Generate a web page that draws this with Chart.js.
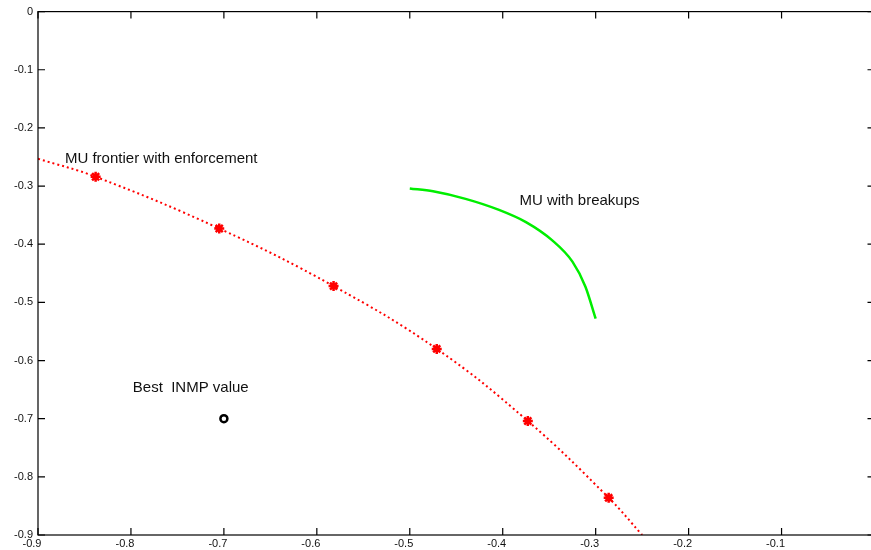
<!DOCTYPE html>
<html>
<head>
<meta charset="utf-8">
<script src="https://cdn.jsdelivr.net/npm/chart.js@4.4.0/dist/chart.umd.min.js"></script>
<style>
    html, body { margin: 0; padding: 0; background: #fff; overflow: hidden; }
    #chart { display: block; width: 882px; height: 550px; }
</style>
</head>
<body>
<canvas id="chart" width="882" height="550"></canvas>
<script>
// Axis ticks (the x = 0 label falls outside the visible picture)
const xTicks = [-0.9, -0.8, -0.7, -0.6, -0.5, -0.4, -0.3, -0.2, -0.1, 0];
const yTicks = [0, -0.1, -0.2, -0.3, -0.4, -0.5, -0.6, -0.7, -0.8, -0.9];
const xTickLabels = ['-0.9', '-0.8', '-0.7', '-0.6', '-0.5', '-0.4', '-0.3', '-0.2', '-0.1', ''];
const yTickLabels = ['0', '-0.1', '-0.2', '-0.3', '-0.4', '-0.5', '-0.6', '-0.7', '-0.8', '-0.9'];

// MU frontier with enforcement (dotted line + star markers)
const frontierLineX = [-0.9, -0.838, -0.705, -0.582, -0.471, -0.373, -0.286, -0.25];
const frontierLineY = [-0.253, -0.284, -0.373, -0.472, -0.580, -0.704, -0.836, -0.9];
const frontierMarkX = [-0.838, -0.705, -0.582, -0.471, -0.373, -0.286];
const frontierMarkY = [-0.284, -0.373, -0.472, -0.580, -0.704, -0.836];

// MU with breakups
const breakupX = [-0.500, -0.475, -0.440, -0.404, -0.375, -0.347, -0.325, -0.311, -0.300];
const breakupY = [-0.304, -0.309, -0.322, -0.341, -0.362, -0.393, -0.430, -0.473, -0.528];

// Best INMP value
const bestX = [-0.7];
const bestY = [-0.7];

// Text annotations (data coordinates)
const notes = [
    { text: 'MU frontier with enforcement', x: -0.871, y: -0.253 },
    { text: 'MU with breakups', x: -0.382, y: -0.326 },
    { text: 'Best  INMP value', x: -0.798, y: -0.647 }
];

function toPoints(xs, ys) {
    return xs.map((x, i) => ({ x: x, y: ys[i] }));
}

// Frame, inward ticks and notes
const framePlugin = {
    id: 'frame',
    afterDatasetsDraw(chart) {
        const { ctx, chartArea: a, scales } = chart;
        ctx.save();
        ctx.strokeStyle = '#000';
        ctx.lineWidth = 1.2;
        ctx.strokeRect(a.left, a.top, a.right - a.left, a.bottom - a.top);
        const len = 7;
        ctx.beginPath();
        xTicks.forEach(v => {
            const px = scales.x.getPixelForValue(v);
            ctx.moveTo(px, a.bottom); ctx.lineTo(px, a.bottom - len);
            ctx.moveTo(px, a.top); ctx.lineTo(px, a.top + len);
        });
        yTicks.forEach(v => {
            const py = scales.y.getPixelForValue(v);
            ctx.moveTo(a.left, py); ctx.lineTo(a.left + len, py);
            ctx.moveTo(a.right, py); ctx.lineTo(a.right - len, py);
        });
        ctx.stroke();

        ctx.fillStyle = '#111';
        ctx.font = '15px "Liberation Sans", Arial, sans-serif';
        ctx.textAlign = 'left';
        ctx.textBaseline = 'middle';
        notes.forEach(n => {
            ctx.fillText(n.text, scales.x.getPixelForValue(n.x), scales.y.getPixelForValue(n.y));
        });
        ctx.restore();
    }
};

const tickFont = { family: '"Liberation Sans", Arial, sans-serif', size: 11 };

new Chart(document.getElementById('chart'), {
    type: 'scatter',
    data: {
        datasets: [
            {
                label: 'frontier line',
                data: toPoints(frontierLineX, frontierLineY),
                showLine: true,
                borderColor: '#ff0000',
                borderWidth: 2,
                borderDash: [2, 3],
                tension: 0.4,
                pointRadius: 0
            },
            {
                label: 'frontier points',
                data: toPoints(frontierMarkX, frontierMarkY),
                showLine: false,
                pointStyle: 'star',
                pointRadius: 5,
                borderColor: '#ff0000',
                backgroundColor: '#ff0000',
                borderWidth: 2.5
            },
            {
                label: 'breakups',
                data: toPoints(breakupX, breakupY),
                showLine: true,
                borderColor: '#00ee00',
                borderWidth: 2.5,
                cubicInterpolationMode: 'monotone',
                pointRadius: 0
            },
            {
                label: 'best',
                data: toPoints(bestX, bestY),
                showLine: false,
                pointStyle: 'circle',
                pointRadius: 3.5,
                borderColor: '#000',
                backgroundColor: '#fff',
                borderWidth: 2.5
            }
        ]
    },
    plugins: [framePlugin],
    options: {
        responsive: false,
        maintainAspectRatio: false,
        animation: false,
        layout: { padding: { top: 11, right: 6, left: 0, bottom: 0 } },
        plugins: {
            legend: { display: false },
            tooltip: { enabled: false }
        },
        scales: {
            x: {
                type: 'linear',
                min: -0.9,
                max: 0,
                afterBuildTicks: (scale) => { scale.ticks = xTicks.map(v => ({ value: v })); },
                afterFit: (scale) => { scale.height = 15; },
                grid: { display: false, drawTicks: false },
                border: { display: false },
                ticks: {
                    color: '#111',
                    font: tickFont,
                    padding: 2,
                    labelOffset: -6,
                    maxRotation: 0,
                    autoSkip: false,
                    callback: (v) => xTickLabels[xTicks.findIndex(t => Math.abs(t - v) < 1e-9)]
                }
            },
            y: {
                type: 'linear',
                min: -0.9,
                max: 0,
                afterBuildTicks: (scale) => { scale.ticks = yTicks.map(v => ({ value: v })); },
                afterFit: (scale) => { scale.width = 38; },
                grid: { display: false, drawTicks: false },
                border: { display: false },
                ticks: {
                    color: '#111',
                    font: tickFont,
                    padding: 5,
                    autoSkip: false,
                    callback: (v) => yTickLabels[yTicks.findIndex(t => Math.abs(t - v) < 1e-9)]
                }
            }
        }
    }
});
</script>
</body>
</html>
